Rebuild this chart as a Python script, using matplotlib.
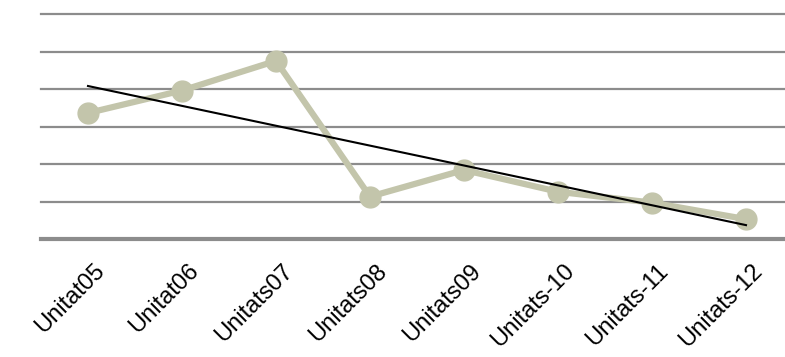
import numpy as np
import matplotlib
matplotlib.use("Agg")
import matplotlib.pyplot as plt
from matplotlib.transforms import ScaledTranslation

categories = ["Unitat05", "Unitat06", "Unitats07", "Unitats08",
              "Unitats09", "Unitats-10", "Unitats-11", "Unitats-12"]
values = [3.36, 3.96, 4.75, 1.13, 1.84, 1.26, 0.97, 0.53]
gridlines = [1, 2, 3, 4, 5, 6]

plt.rcParams['font.family'] = ['Liberation Sans', 'DejaVu Sans']

fig = plt.figure(figsize=(7.85, 3.57), dpi=100)
W, H = 785, 357
left, right, top, bottom = 41, 793, 14, 239
ax = fig.add_axes([left / W, 1 - bottom / H, (right - left) / W, (bottom - top) / H])

x = np.arange(len(categories))
ax.set_xlim(-0.5, len(categories) - 0.5)
ax.set_ylim(0, 6)

for g in gridlines:
    ax.axhline(g, color="#8c8c8c", lw=1.6, zorder=1, clip_on=False)
ax.axhline(0, color="#8c8c8c", lw=3.0, zorder=1, clip_on=False)

ax.plot(x, values, color="#c3c5ab", lw=4.5, marker="o", ms=15,
        markerfacecolor="#c3c5ab", markeredgecolor="#c3c5ab",
        solid_joinstyle="round", zorder=3, clip_on=False)

slope, intercept = np.polyfit(x, values, 1)
ax.plot(x[[0, -1]], intercept + slope * x[[0, -1]], color="black", lw=1.5, zorder=4)

for s in ax.spines.values():
    s.set_visible(False)
ax.set_yticks([])
ax.set_xticks(x)
ax.set_xticklabels(categories, rotation=45, ha="right", rotation_mode="anchor",
                   fontsize=17)
ax.tick_params(axis="x", length=0, pad=15)
offset = ScaledTranslation(4 / 72, 0, fig.dpi_scale_trans)
for lbl in ax.get_xticklabels():
    lbl.set_transform(lbl.get_transform() + offset)

fig.savefig("out.png", dpi=100)
